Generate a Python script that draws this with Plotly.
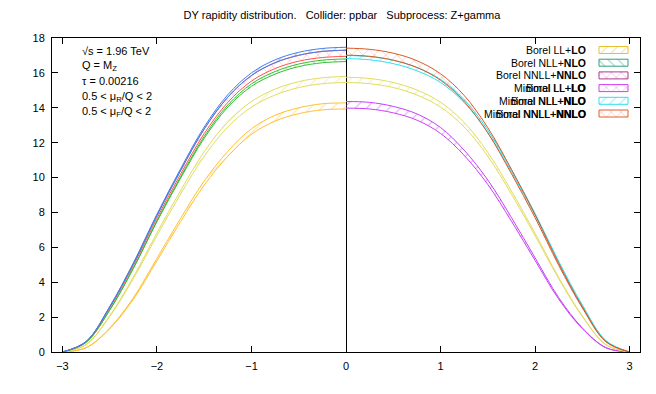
import plotly.graph_objects as go

# ----------------------------
# DATA
# ----------------------------

Y_LEFT = [0, -0.25, -0.5, -0.75, -1.0, -1.25, -1.5, -1.75, -2.0, -2.25, -2.5, -2.75, -3.0]
Y_RIGHT = [0, 0.25, 0.5, 0.75, 1.0, 1.25, 1.5, 1.75, 2.0, 2.25, 2.5, 2.75, 3.0]

# left half (Y < 0)
L_GOLD_LO = [13.93, 13.88, 13.66, 13.24, 12.48, 11.22, 9.56, 7.47, 5.23, 3.02, 1.33, 0.24, 0]
L_GOLD_HI = [14.28, 14.23, 14.00, 13.57, 12.80, 11.50, 9.80, 7.66, 5.37, 3.10, 1.37, 0.25, 0]
L_KHAKI_LO = [15.45, 15.38, 15.16, 14.73, 14.04, 12.90, 11.22, 9.05, 6.67, 4.20, 2.03, 0.41, 0]
L_KHAKI_HI = [15.80, 15.72, 15.50, 15.07, 14.36, 13.20, 11.48, 9.25, 6.83, 4.30, 2.07, 0.43, 0]
L_GREEN_LO = [16.65, 16.58, 16.36, 15.93, 15.23, 14.04, 12.25, 9.96, 7.47, 4.78, 2.39, 0.55, 0]
L_GREEN_HI = [16.80, 16.73, 16.51, 16.08, 15.37, 14.16, 12.36, 10.04, 7.53, 4.82, 2.41, 0.55, 0]
L_RED_LO = [16.95, 16.88, 16.67, 16.25, 15.53, 14.31, 12.52, 10.19, 7.67, 4.95, 2.52, 0.58, 0]
L_RED_HI = [17.30, 17.23, 17.01, 16.59, 15.85, 14.61, 12.78, 10.40, 7.83, 5.05, 2.58, 0.59, 0]
L_BLUE_LO = [17.30, 17.23, 17.01, 16.58, 15.85, 14.61, 12.78, 10.40, 7.82, 5.05, 2.57, 0.59, 0]
L_BLUE_HI = [17.47, 17.40, 17.18, 16.75, 16.00, 14.75, 12.90, 10.50, 7.90, 5.10, 2.60, 0.60, 0]

# right half (Y > 0)
R_MAGENTA_LO = [13.98, 13.93, 13.71, 13.29, 12.53, 11.27, 9.60, 7.50, 5.25, 3.03, 1.34, 0.24, 0]
R_MAGENTA_HI = [14.36, 14.31, 14.08, 13.65, 12.87, 11.57, 9.86, 7.71, 5.40, 3.12, 1.38, 0.25, 0]
R_KHAKI_LO = [15.45, 15.38, 15.16, 14.73, 14.04, 12.90, 11.22, 9.05, 6.67, 4.20, 2.03, 0.41, 0]
R_KHAKI_HI = [15.75, 15.68, 15.45, 15.02, 14.32, 13.16, 11.44, 9.23, 6.81, 4.28, 2.07, 0.42, 0]
R_CYAN_LO = [16.82, 16.75, 16.53, 16.12, 15.45, 14.30, 12.58, 10.33, 7.85, 5.12, 2.64, 0.62, 0]
R_CYAN_HI = [17.00, 16.93, 16.72, 16.31, 15.63, 14.46, 12.72, 10.45, 7.95, 5.20, 2.70, 0.65, 0]
R_ORANGE_LO = [17.02, 16.95, 16.73, 16.31, 15.58, 14.36, 12.56, 10.22, 7.70, 4.97, 2.53, 0.58, 0]
R_ORANGE_HI = [17.42, 17.35, 17.13, 16.70, 15.95, 14.71, 12.86, 10.47, 7.88, 5.08, 2.59, 0.60, 0]

LEGEND_LABELS = [
    ("Borel", "LL+<b>LO</b>"),
    ("Borel", "NLL+<b>NLO</b>"),
    ("Borel", "NNLL+<b>NNLO</b>"),
    ("Minimal", "LL+<b>LO</b>"),
    ("Minimal", "NLL+<b>NLO</b>"),
    ("Minimal", "NNLL+<b>NNLO</b>"),
]
LEGEND_COLORS = ["#e8c030", "#30a080", "#b03890", "#d040f0", "#30e0f0", "#e06030"]
LEGEND_PATTERNS = ["/", "\\", "x", "x", "/", "x"]

INFO_LINES = [
    "√s = 1.96 TeV",
    "Q = M<sub>Z</sub>",
    "τ = 0.00216",
    "0.5 &lt; μ<sub>R</sub>/Q &lt; 2",
    "0.5 &lt; μ<sub>F</sub>/Q &lt; 2",
]

FONT = "Liberation Sans, Arial, sans-serif"

# the page puts the plot 8px in from the top-left corner
OFF = 8
# plot frame in screen pixels
FRAME_L, FRAME_R, FRAME_T, FRAME_B = 52, 640, 38, 352

# ----------------------------
# BANDS
# ----------------------------

bands = [
    (Y_LEFT, L_GOLD_LO, L_GOLD_HI, "#ffc030", "/"),
    (Y_LEFT, L_KHAKI_LO, L_KHAKI_HI, "#e2dc60", "/"),
    (Y_LEFT, L_GREEN_LO, L_GREEN_HI, "#30c030", "\\"),
    (Y_LEFT, L_RED_LO, L_RED_HI, "#ff5050", "x"),
    (Y_LEFT, L_BLUE_LO, L_BLUE_HI, "#4080f0", "/"),
    (Y_RIGHT, R_MAGENTA_LO, R_MAGENTA_HI, "#c840f8", "/"),
    (Y_RIGHT, R_KHAKI_LO, R_KHAKI_HI, "#e2dc60", "/"),
    (Y_RIGHT, R_CYAN_LO, R_CYAN_HI, "#30e0f0", "/"),
    (Y_RIGHT, R_ORANGE_LO, R_ORANGE_HI, "#d85a28", "x"),
]

fig = go.Figure()

for x, lo, hi, color, pat in bands:
    fig.add_trace(go.Scatter(
        x=x, y=lo, mode="lines",
        line=dict(color=color, width=1, shape="spline"),
        showlegend=False, hoverinfo="skip",
    ))
    fig.add_trace(go.Scatter(
        x=x, y=hi, mode="lines",
        line=dict(color=color, width=1, shape="spline"),
        fill="tonexty",
        fillcolor="rgba(0,0,0,0)",
        fillpattern=dict(shape=pat, fgcolor=color, bgcolor="rgba(0,0,0,0)",
                         size=8, solidity=0.12),
        showlegend=False, hoverinfo="skip",
    ))

# ----------------------------
# KEY (gnuplot style: text left of swatch)
# overlay axes x2/y2 are in screen pixels of the reference
# ----------------------------

key_top = 50
key_step = 12.7
text_right = 588
sw_x0, sw_x1 = 599, 628

for i, (label, color, pat) in enumerate(zip(LEGEND_LABELS, LEGEND_COLORS, LEGEND_PATTERNS)):
    yc = key_top + i * key_step
    fig.add_trace(go.Scatter(
        x=[sw_x0, sw_x1, sw_x1, sw_x0, sw_x0],
        y=[yc - 3.5, yc - 3.5, yc + 3.5, yc + 3.5, yc - 3.5],
        xaxis="x2", yaxis="y2",
        mode="lines", line=dict(color=color, width=1),
        fill="toself", fillcolor="rgba(0,0,0,0)",
        fillpattern=dict(shape=pat, fgcolor=color, bgcolor="rgba(0,0,0,0)",
                         size=7, solidity=0.15),
        showlegend=False, hoverinfo="skip",
    ))
    texts = [label[0] + " " + label[1]]
    if label[0] == "Minimal":
        # gnuplot overprinted the previous key title here
        texts.append("Borel " + label[1])
    for t in texts:
        fig.add_annotation(
            x=text_right, y=yc, xref="x2", yref="y2",
            text=t, showarrow=False, xanchor="right", yanchor="middle",
            font=dict(family=FONT, size=10.5, color="black"),
        )

for i, line in enumerate(INFO_LINES):
    fig.add_annotation(
        x=80, y=51 + i * 15.2, xref="x2", yref="y2",
        text=line, showarrow=False, xanchor="left", yanchor="middle",
        font=dict(family=FONT, size=11, color="black"),
    )

# axis titles
fig.add_annotation(
    x=15, y=195, xref="x2", yref="y2", text="dσ/dQ/dY [pb/GeV]",
    textangle=-90, showarrow=False, font=dict(family=FONT, size=11, color="black"),
)
fig.add_annotation(
    x=347, y=383, xref="x2", yref="y2", text="Y",
    showarrow=False, font=dict(family=FONT, size=11, color="black"),
)

axis_common = dict(
    showgrid=False, ticks="inside", ticklen=6, tickcolor="black",
    showline=True, linecolor="black", linewidth=1, mirror="ticks",
    tickfont=dict(family=FONT, size=11, color="black"),
    ticklabelstandoff=4,
)

fig.update_layout(
    width=656 - OFF, height=394 - OFF,
    margin=dict(l=FRAME_L - OFF, r=656 - FRAME_R, t=FRAME_T - OFF, b=394 - FRAME_B),
    paper_bgcolor="white", plot_bgcolor="white",
    title=dict(
        text="DY rapidity distribution.   Collider: ppbar   Subprocess: Z+gamma",
        x=(342 - OFF) / (656 - OFF), xref="container", xanchor="center",
        y=1 - (15 - OFF) / (394 - OFF), yref="container", yanchor="middle",
        font=dict(family=FONT, size=11, color="black"),
    ),
    xaxis=dict(range=[-3.11, 3.11], tickvals=[-3, -2, -1, 0, 1, 2, 3],
               zeroline=True, zerolinecolor="black", zerolinewidth=1,
               **axis_common),
    yaxis=dict(range=[0, 18], dtick=2, zeroline=False, **axis_common),
    xaxis2=dict(overlaying="x", range=[FRAME_L, FRAME_R], visible=False, anchor="y2"),
    yaxis2=dict(overlaying="y", range=[FRAME_B, FRAME_T], visible=False, anchor="x2"),
    showlegend=False,
)

fig.write_html("out.html")
